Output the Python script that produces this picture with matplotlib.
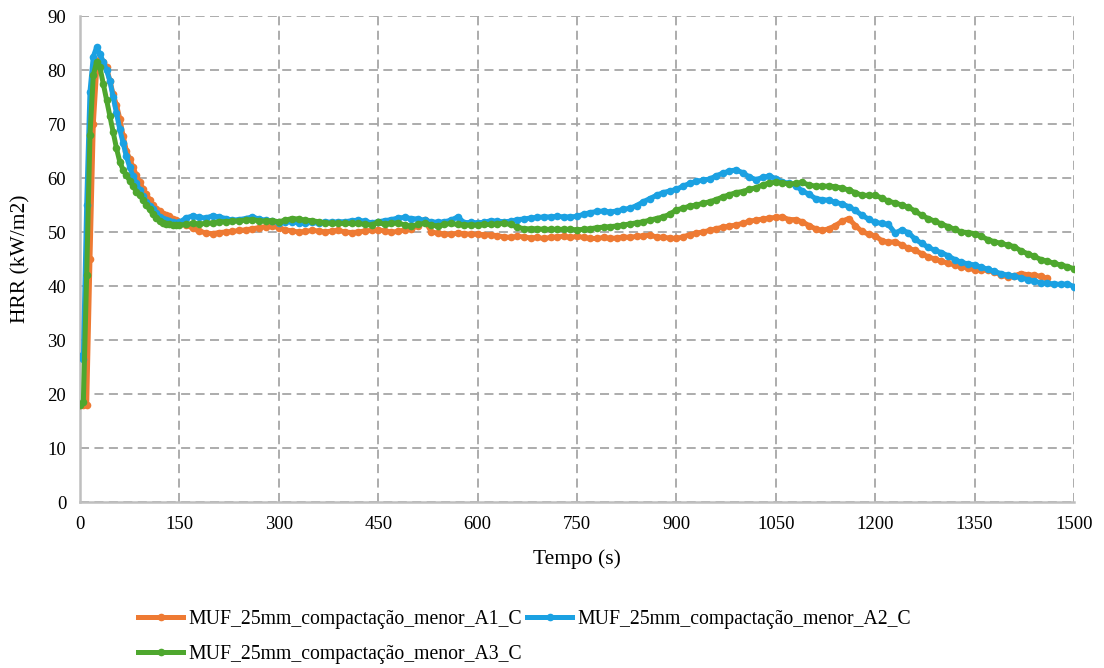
import numpy as np
import matplotlib
matplotlib.use("Agg")
import matplotlib.pyplot as plt

# Time base: 5 s sampling over the ignition peak, 10 s afterwards
tempo = np.concatenate([np.arange(0, 150, 5), np.arange(150, 1510, 10)])

labels = [
    "MUF_25mm_compactação_menor_A1_C",
    "MUF_25mm_compactação_menor_A2_C",
    "MUF_25mm_compactação_menor_A3_C",
]
colors = ["#EE7A33", "#1BA1E2", "#4EA72E"]

hrr_a1 = [
    # 0 .. 145 s (5 s)
    18.0, 18.0, 18.0, 45.0, 70.0, 80.0, 82.0, 81.5, 80.5, 78.0,
    75.5, 73.5, 71.0, 67.8, 65.0, 63.5, 62.0, 60.5, 59.3, 58.0,
    57.0, 56.0, 55.0, 54.3, 53.8, 53.4, 53.2, 52.9, 52.5, 52.2,
    # 150 .. 1460 s (10 s)
    51.9, 51.3, 50.7, 50.2, 49.8, 49.7, 49.9, 50.0, 50.1, 50.3,
    50.4, 50.6, 50.8, 51.0, 51.1, 50.8, 50.4, 50.2, 50.0, 50.1,
    50.3, 50.2, 50.0, 50.2, 50.3, 50.0, 49.9, 50.0, 50.2, 50.3,
    50.4, 50.2, 50.0, 50.1, 50.4, 50.6, 51.2, 52.3, 50.0, 49.8,
    49.6, 49.6, 49.8, 49.7, 49.6, 49.6, 49.5, 49.5, 49.3, 49.1,
    49.0, 49.2, 49.1, 48.9, 49.0, 48.8, 49.0, 49.1, 49.2, 49.0,
    49.2, 49.0, 48.8, 48.8, 49.0, 48.8, 48.9, 49.1, 49.0, 49.2,
    49.3, 49.4, 49.1, 49.0, 48.9, 48.8, 49.1, 49.5, 49.8, 50.0,
    50.3, 50.6, 50.9, 51.1, 51.3, 51.6, 52.0, 52.2, 52.4, 52.6,
    52.7, 52.8, 52.3, 52.3, 51.9, 51.2, 50.6, 50.3, 50.6, 51.2,
    52.0, 52.5, 51.2, 50.1, 49.6, 49.3, 48.4, 48.1, 48.2, 47.6,
    47.0, 46.6, 46.0, 45.4, 45.0, 44.6, 44.2, 43.9, 43.6, 43.3,
    43.0, 43.0, 42.9, 42.6, 42.0, 41.7, 41.9, 42.3, 42.1, 42.0,
    41.8, 41.4,
]

hrr_a2 = [
    27.0, 26.5, 55.0, 76.0, 82.5, 84.2, 83.0, 81.5, 80.0, 78.0,
    75.0, 72.0, 69.0, 66.5, 64.0, 62.0, 60.3, 59.0, 57.8, 56.6,
    55.6, 54.9, 54.2, 53.5, 52.8, 52.5, 52.2, 52.0, 51.8, 51.6,
    51.8, 52.6, 53.0, 52.7, 52.6, 53.0, 52.8, 52.5, 52.2, 52.3,
    52.5, 52.8, 52.4, 52.2, 52.0, 51.7, 51.9, 51.9, 51.7, 51.6,
    51.8, 51.6, 51.9, 51.8, 51.9, 51.9, 52.1, 52.2, 52.0, 51.7,
    51.9, 52.1, 52.3, 52.6, 52.7, 52.5, 52.4, 52.2, 51.9, 51.8,
    51.9, 52.2, 52.8, 51.7, 51.8, 51.7, 51.8, 52.1, 52.0, 51.9,
    52.0, 52.3, 52.4, 52.6, 52.7, 52.8, 52.8, 52.9, 52.8, 52.8,
    52.9, 53.3, 53.6, 53.8, 53.9, 53.7, 53.9, 54.2, 54.4, 54.9,
    55.6, 56.2, 56.8, 57.3, 57.6, 57.9, 58.5, 59.0, 59.4, 59.6,
    59.8, 60.4, 60.9, 61.3, 61.5, 61.0, 60.2, 59.7, 60.1, 60.4,
    59.9, 59.3, 59.0, 58.6, 57.6, 57.0, 56.2, 56.0, 55.9, 55.5,
    55.2, 54.7, 54.0, 53.1, 52.4, 51.8, 51.6, 51.4, 49.8, 50.4,
    49.9, 48.7, 47.9, 47.2, 46.6, 46.2, 45.6, 44.9, 44.4, 44.1,
    43.9, 43.5, 43.1, 42.7, 42.3, 42.0, 41.8, 41.5, 41.2, 40.9,
    40.6, 40.5, 40.4, 40.3, 40.4, 39.9,
]

hrr_a3 = [
    18.0, 18.5, 42.0, 68.0, 79.0, 81.5, 80.5, 77.5, 74.5, 71.5,
    68.5, 65.5, 63.0, 61.5, 60.5, 59.5, 58.5, 57.5, 56.8, 56.0,
    55.0, 54.2, 53.3, 52.6, 52.0, 51.7, 51.5, 51.4, 51.3, 51.3,
    51.3, 51.4, 51.6, 51.5, 51.6, 51.7, 51.9, 51.9, 52.0, 52.1,
    52.2, 52.3, 52.1, 52.0, 52.1, 51.9, 52.2, 52.5, 52.4, 52.2,
    52.1, 51.9, 51.7, 51.6, 51.6, 51.6, 51.6, 51.6, 51.4, 51.3,
    51.8, 51.4, 51.6, 51.7, 51.3, 51.1, 51.4, 51.6, 51.3, 51.1,
    51.4, 51.6, 51.4, 51.3, 51.3, 51.3, 51.4, 51.4, 51.5, 51.6,
    51.4, 50.9, 50.6, 50.6, 50.6, 50.5, 50.5, 50.5, 50.5, 50.5,
    50.4, 50.5, 50.6, 50.8, 50.9, 51.0, 51.1, 51.3, 51.5, 51.7,
    51.9, 52.2, 52.5, 52.8, 53.3, 54.1, 54.4, 54.8, 55.0, 55.3,
    55.6, 56.0, 56.5, 56.9, 57.3, 57.5, 57.9, 58.2, 58.7, 59.1,
    59.2, 59.1, 58.9, 59.0, 59.2, 58.7, 58.5, 58.5, 58.5, 58.4,
    58.1, 57.8, 57.3, 56.8, 56.8, 56.8, 56.3, 55.7, 55.4, 55.0,
    54.6, 53.9, 53.1, 52.5, 52.0, 51.5, 51.0, 50.5, 50.0, 49.9,
    49.7, 49.2, 48.6, 48.2, 47.9, 47.6, 47.3, 46.5, 46.0, 45.5,
    44.9, 44.6, 44.2, 43.9, 43.6, 43.2,
]

x_ticks = list(range(0, 1501, 150))
y_ticks = list(range(0, 91, 10))

plt.rcParams["font.family"] = ["Liberation Serif", "DejaVu Serif"]

fig = plt.figure(figsize=(11.04, 6.68), dpi=100)
ax = fig.add_axes([0.0725, 0.2485, 0.9003, 0.7275])

handles = []
for vals, lab, col in zip([hrr_a1, hrr_a2, hrr_a3], labels, colors):
    h, = ax.plot(tempo[:len(vals)], vals, color=col, lw=3.6,
                 marker="o", ms=5.5, mew=0, label=lab, zorder=3)
    handles.append(h)

ax.set_xlim(0, 1500)
ax.set_ylim(0, 90)
ax.set_xticks(x_ticks)
ax.set_yticks(y_ticks)
ax.tick_params(length=0, labelsize=13.5, pad=10)
ax.grid(True, color="#A6A6A6", lw=1.3, ls=(0, (5, 3)))
ax.set_axisbelow(True)
for s in ["top", "right"]:
    ax.spines[s].set_visible(False)
for s in ["left", "bottom"]:
    ax.spines[s].set_color("#BFBFBF")
    ax.spines[s].set_linewidth(1.8)

ax.set_xlabel("Tempo (s)", fontsize=15.5, labelpad=12)
ax.set_ylabel("HRR (kW/m2)", fontsize=15.5, labelpad=12)

order = [0, 2, 1]
fig.legend([handles[i] for i in order], [labels[i] for i in order],
           ncol=2, loc="upper left", bbox_to_anchor=(0.125, 0.087),
           frameon=False, fontsize=14.2, handlelength=2.3,
           handletextpad=0.25, columnspacing=0.25, labelspacing=0.8,
           borderaxespad=0, borderpad=0)

fig.savefig("out.png", dpi=100)
